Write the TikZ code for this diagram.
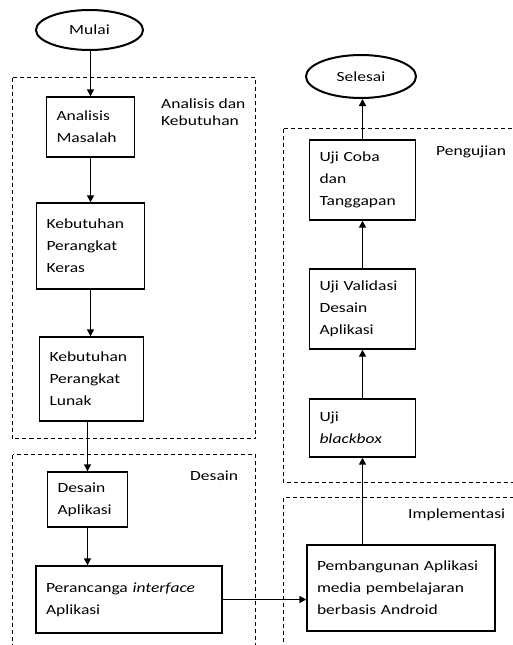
\documentclass[tikz,border=0pt]{standalone}
\usepackage{fontspec}
\setmainfont{Carlito}[FakeStretch=1.25]
\usetikzlibrary{arrows.meta,shapes.geometric}

\begin{document}
\begin{tikzpicture}[x=1pt, y=-1pt,
    kotak/.style={draw, line width=1.4pt, align=left, inner xsep=10pt, inner ysep=2pt, font=\fontsize{14pt}{22pt}\selectfont},
    terminal/.style={draw, ellipse, line width=2pt, inner sep=0pt, font=\fontsize{14pt}{17pt}\selectfont},
    tahap/.style={line width=1pt, dash pattern=on 4pt off 3pt},
    judul/.style={align=left, inner sep=0pt, font=\fontsize{14pt}{17pt}\selectfont},
    panah/.style={-{Triangle[length=7pt,width=7pt]}, line width=1.4pt}]

    \useasboundingbox (0,0) rectangle (513,645);
    \clip (0,0) rectangle (513,645);

    \draw[tahap] (12.5,77.5) rectangle (255.5,438.5);
    \draw[tahap] (12.5,454.5) rectangle (255.5,660);
    \draw[tahap] (283.5,128.5) rectangle (530,482.5);
    \draw[tahap] (283.5,497.5) rectangle (530,660);

    \node[judul, anchor=north west] (jAnalisis) at (161,99) {Analisis dan\\Kebutuhan};
    \node[judul, anchor=base west] (jDesain) at (190,480) {Desain};
    \node[judul, anchor=base west] (jPengujian) at (436,155) {Pengujian};
    \node[judul, anchor=base west] (jImplementasi) at (408,518) {Implementasi};

    \node[terminal, minimum width=107pt, minimum height=40pt] (mulai) at (89.5,30) {Mulai};
    \node[kotak, text width=68pt, minimum height=60pt] (masalah) at (90.5,127) {Analisis\\Masalah};
    \node[kotak, text width=88pt, minimum height=86pt] (keras) at (90.5,246) {Kebutuhan\\Perangkat\\Keras};
    \node[kotak, text width=84pt, minimum height=84pt] (lunak) at (91.5,379) {Kebutuhan\\Perangkat\\Lunak};
    \node[kotak, text width=60pt, minimum height=55pt] (desainApp) at (87.5,499.5) {Desain\\Aplikasi};
    \node[kotak, text width=166pt, minimum height=67pt] (perancanga) at (129,599.5) {Perancanga \textit{interface}\\Aplikasi};

    \node[terminal, minimum width=110pt, minimum height=43pt] (selesai) at (361,76.5) {Selesai};
    \node[kotak, text width=86pt, minimum height=80pt] (ujiCoba) at (362.5,180) {Uji Coba\\dan\\Tanggapan};
    \node[kotak, text width=86pt, minimum height=80pt] (ujiValidasi) at (362.5,309) {Uji Validasi\\Desain\\Aplikasi};
    \node[kotak, text width=86pt, minimum height=58pt] (ujiBlackbox) at (362.5,428) {Uji\\\textit{blackbox}};
    \node[kotak, text width=168pt, minimum height=86pt] (pembangunan) at (401,588) {Pembangunan Aplikasi\\media pembelajaran\\berbasis Android};

    \draw[panah] (masalah |- mulai.south) -- (masalah.north);
    \draw[panah] (masalah) -- (masalah |- keras.north);
    \draw[panah] (keras) -- (keras |- lunak.north);
    \draw[panah] (desainApp.north |- lunak.south) -- (desainApp.north);
    \draw[panah] (desainApp.south) -- (desainApp.south |- perancanga.north);
    \draw[panah] (perancanga.east) -- (perancanga.east -| pembangunan.west);
    \draw[panah] (ujiBlackbox.south |- pembangunan.north) -- (ujiBlackbox.south);
    \draw[panah] (ujiBlackbox) -- (ujiBlackbox |- ujiValidasi.south);
    \draw[panah] (ujiValidasi) -- (ujiValidasi |- ujiCoba.south);
    \draw[panah] (ujiCoba.north) -- (ujiCoba.north |- selesai.south);

\end{tikzpicture}
\end{document}
